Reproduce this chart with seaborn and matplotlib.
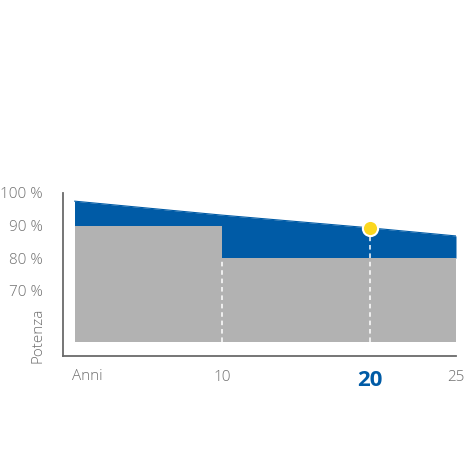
import numpy as np
import matplotlib.pyplot as plt
import seaborn as sns

# values
years = [0, 10, 20, 25]
power_curve = [97.5, 93.2, 89.3, 86.8]      # blue top edge (%)
guarantee_years = [0, 10, 25]
guarantee = [90, 80, 80]                     # grey step (%)
base_level = 54.2
highlight_year = 20
highlight_value = 89.3
y_ticks = [70, 80, 90, 100]
y_labels = ["70 %", "80 %", "90 %", "100 %"]
x_ticks = [5, 10, 15, 20, 25]
x_labels = ["", "10", "", "20", "25"]

BLUE = "#005ba6"
GREY = "#b2b2b2"
TEXT = "#707070"
AXIS = "#6a6a6a"

sns.set_theme(style="white")
plt.rcParams["font.family"] = ["Open Sans", "DejaVu Sans"]


# last five years are drawn a bit wider in the original artwork
def fwd(x):
    x = np.asarray(x, dtype=float)
    return np.where(x <= 20, x, 20 + (x - 20) * 1.172)


def inv(x):
    x = np.asarray(x, dtype=float)
    return np.where(x <= 20, x, 20 + (x - 20) / 1.172)


fig = plt.figure(figsize=(4.65, 4.65), dpi=100)
ax = fig.add_axes([63 / 465, 1 - 355.7 / 465, 393 / 465, 162.7 / 465])
ax.set_xscale("function", functions=(fwd, inv))

# blue band sits on the lowest guarantee level, grey step is drawn over it
ax.fill_between(years, power_curve, min(guarantee), color=BLUE, lw=0)
ax.fill_between(guarantee_years, guarantee, base_level, step="post", color=GREY, lw=0)
sns.lineplot(x=years, y=power_curve, ax=ax, color=BLUE, lw=0.8)

ax.vlines(10, base_level, 80, colors="white", linestyles=(0, (3, 2.5)), lw=1.1)
ax.vlines(highlight_year, base_level, highlight_value, colors="white",
          linestyles=(0, (3, 2.5)), lw=1.1)
sns.scatterplot(x=[highlight_year], y=[highlight_value], ax=ax, s=120,
                color="#fbd71f", edgecolor="white", linewidth=1.5, zorder=5)

ax.set_xlim(-0.78, 25)
ax.set_ylim(50, 100)

for s in ["top", "right"]:
    ax.spines[s].set_visible(False)
for s in ["left", "bottom"]:
    ax.spines[s].set_color(AXIS)
    ax.spines[s].set_linewidth(1.3)

ax.set_yticks(y_ticks)
ax.set_yticklabels(y_labels, fontsize=11, color=TEXT, fontweight="light")
ax.set_xticks(x_ticks)
ax.set_xticklabels(x_labels, fontsize=11, color=TEXT, fontweight="light")
ax.tick_params(axis="both", direction="inout", length=9, width=1.2, color=AXIS)
ax.tick_params(axis="y", pad=10)
ax.tick_params(axis="x", pad=6)

hl = ax.get_xticklabels()[3]
hl.set_color(BLUE)
hl.set_fontsize(16)
hl.set_fontweight("bold")

ax.set_xlabel("Anni", fontsize=11, color=TEXT, fontweight="light", va="center")
ax.xaxis.set_label_coords(0.061, -0.125)
ax.set_ylabel("Potenza", fontsize=11, color=TEXT, fontweight="light", va="center")
ax.yaxis.set_label_coords(-0.064, 0.127)

plt.savefig("out.png", dpi=100)
